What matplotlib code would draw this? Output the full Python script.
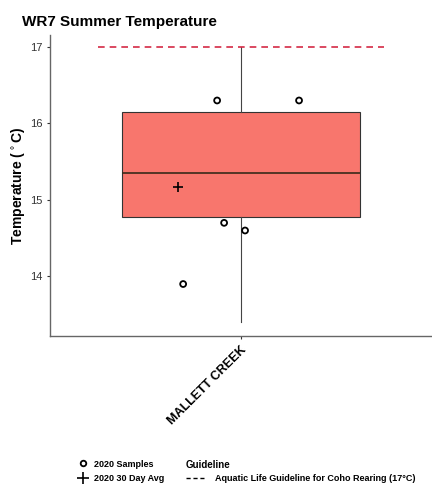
import matplotlib
matplotlib.use("Agg")
import matplotlib.pyplot as plt
from matplotlib.lines import Line2D

plt.rcParams["font.family"] = ["Liberation Sans", "DejaVu Sans"]

site = "MALLETT CREEK"
box_q1 = 14.78
box_med = 15.35
box_q3 = 16.15
whisk_lo = 13.40
whisk_hi = 17.00
avg_30day = 15.17
guideline = 17.0

sample_x = [0.926, 1.184, 0.948, 1.014, 0.819]
sample_temp = [16.30, 16.30, 14.70, 14.60, 13.90]
avg_x = 0.803

fig = plt.figure(figsize=(4.32, 4.92), dpi=100)
ax = fig.add_axes([0.116, 0.317, 0.882, 0.612])

stats = [dict(med=box_med, q1=box_q1, q3=box_q3, whislo=whisk_lo, whishi=whisk_hi,
              fliers=[], label=site)]
ax.bxp(stats, positions=[1], widths=0.75, patch_artist=True, showcaps=False,
       boxprops=dict(facecolor="#F8766D", edgecolor="#333333", linewidth=0.8),
       medianprops=dict(color="#3a2a1a", linewidth=1.2),
       whiskerprops=dict(color="#444444", linewidth=0.8), zorder=1)

ax.plot([0.55, 1.45], [guideline, guideline], ls=(0, (4, 3)), color="#D42A45",
        lw=1.2, zorder=3)
ax.scatter(sample_x, sample_temp, s=18, facecolors="none", edgecolors="black",
           linewidths=1.3, zorder=4)
ax.scatter([avg_x], [avg_30day], marker="+", s=60, color="black", linewidths=1.2,
           zorder=4)

ax.set_xlim(0.4, 1.6)
ax.set_ylim(13.22, 17.157)
ax.set_yticks([14, 15, 16, 17])
ax.set_xticks([1])
ax.set_xticklabels([site], rotation=45, ha="right", rotation_mode="anchor",
                   fontsize=9, fontweight="bold")
ax.tick_params(axis="y", labelsize=8, labelcolor="#333333", color="#333333",
               length=2)
ax.tick_params(axis="x", length=2, color="#333333")
for s in ["top", "right"]:
    ax.spines[s].set_visible(False)
for s in ["left", "bottom"]:
    ax.spines[s].set_color("#666666")
    ax.spines[s].set_linewidth(1.0)
ax.set_ylabel("Temperature ($^\\circ$C)", fontsize=10, fontweight="bold",
              labelpad=2)

fig.text(0.051, 0.955, "WR7 Summer Temperature", fontsize=11, fontweight="bold",
         va="center")

h1 = [Line2D([], [], marker="o", ls="none", mfc="none", mec="black", mew=1.3, ms=4),
      Line2D([], [], marker="+", ls="none", color="black", mew=1.2, ms=8)]
leg1 = fig.legend(h1, ["2020 Samples", "2020 30 Day Avg"], loc="upper left",
                  bbox_to_anchor=(0.17, 0.075), frameon=False,
                  prop=dict(size=6.5, weight="bold"), handlelength=1.2,
                  handletextpad=0.6, labelspacing=0.6, borderpad=0)
h2 = [Line2D([], [], ls=(0, (3, 2)), color="black", lw=1.0)]
leg2 = fig.legend(h2, ["Aquatic Life Guideline for Coho Rearing (17°C)"],
                  loc="upper left", bbox_to_anchor=(0.42, 0.075), frameon=False,
                  prop=dict(size=6.5, weight="bold"), handlelength=2.0,
                  handletextpad=1.2, borderpad=0, title="Guideline",
                  title_fontproperties=dict(size=7, weight="bold"))
leg2._legend_box.align = "left"
leg2._legend_box.sep = 3

fig.savefig("out.png", dpi=100)
